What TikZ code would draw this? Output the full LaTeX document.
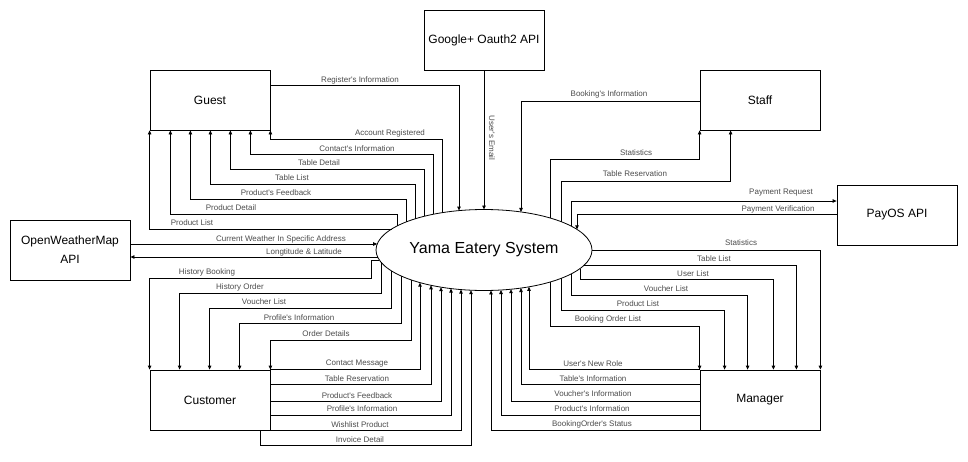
\documentclass[tikz,border=0pt]{standalone}
\usepackage{fontspec}
\setmainfont{Liberation Sans}[Ligatures=TeXOff]
\usetikzlibrary{arrows.meta,shapes.geometric}
\begin{document}
\begin{tikzpicture}[x=1pt,y=-1pt,
 box/.style={draw=black,line width=0.8pt,minimum width=120pt,minimum height=60pt,inner sep=0pt,font=\fontsize{12}{14}\selectfont,align=center},
 flow/.style={draw=black,line width=0.8pt,-{Triangle[length=4pt,width=3.5pt]}},
 lbl/.style={font=\fontsize{8}{9}\selectfont,text=black!70,inner sep=0pt,yshift=-1pt}]
\fill[white] (0,0) rectangle (968,461);
\useasboundingbox (0,0) rectangle (968,461);

% nodes
\node[box] (guest) at (210,100) {Guest};
\node[box] (google) at (484,40) {Google+ Oauth2 API};
\node[box] (staff) at (760,100) {Staff};
\node[box,font=\fontsize{12}{19}\selectfont] (owm) at (70,250) {OpenWeatherMap\\API};
\node[box] (payos) at (897,215) {PayOS API};
\node[box] (customer) at (210,400) {Customer};
\node[box] (manager) at (760,400) {Manager};
\node[draw,ellipse,line width=0.8pt,minimum width=216pt,minimum height=81pt,inner sep=0pt,font=\fontsize{16}{19}\selectfont] (sys) at (484,250) {Yama Eatery System};

% points on the ellipse border
\foreach \x in {397,406,415,424,433,442,459,484,521,550,561,571,577}
  \coordinate (T\x) at (\x,{250-40.5*sqrt(1-((\x-484)/108)^2)});
\foreach \x in {381,391,401,411,420,431,441,451,461,471,491,501,511,521,529,550,561,571,580}
  \coordinate (B\x) at (\x,{250+40.5*sqrt(1-((\x-484)/108)^2)});
\foreach \y in {229,244,257,260}
  \coordinate (L\y) at ({484-108*sqrt(1-((\y-250)/40.5)^2)},\y);
\foreach \y in {250,265}
  \coordinate (R\y) at ({484+108*sqrt(1-((\y-250)/40.5)^2)},\y);

% Guest
\draw[flow] ([yshift=15pt]guest.east) -| (T459);
\draw[flow] (T442) |- ([yshift=-9pt]guest.south east) -- (guest.south east);
\draw[flow] (T433) |- ([xshift=-20pt,yshift=-24pt]guest.south east) -- ([xshift=-20pt]guest.south east);
\draw[flow] (T424) |- ([xshift=-40pt,yshift=-39pt]guest.south east) -- ([xshift=-40pt]guest.south east);
\draw[flow] (T415) |- ([xshift=-60pt,yshift=-54pt]guest.south east) -- ([xshift=-60pt]guest.south east);
\draw[flow] (T406) |- ([xshift=-80pt,yshift=-69pt]guest.south east) -- ([xshift=-80pt]guest.south east);
\draw[flow] (T397) |- ([xshift=-100pt,yshift=-84pt]guest.south east) -- ([xshift=-100pt]guest.south east);
\draw[flow] (L229) -| (guest.south west);

% Google
\draw[flow] (google.south) -- (T484);

% Staff
\draw[flow] ([yshift=-1pt]staff.west) -| (T521);
\draw[flow] (T550) |- ([yshift=-29pt]staff.south west) -- (staff.south west);
\draw[flow] (T561) |- ([xshift=31pt,yshift=-51pt]staff.south west) -- ([xshift=31pt]staff.south west);

% PayOS
\draw[flow] (T571) |- ([yshift=14pt]payos.west);
\draw[flow] ([yshift=1pt]payos.west) -| (T577);

% OpenWeatherMap
\draw[flow] ([yshift=6pt]owm.east) -- (L244);
\draw[flow] (L257) -- ([yshift=-7pt]owm.east);

% Customer
\draw[flow] (L260) -- (371,260) -- (371,278) -| (customer.north west);
\draw[flow] (B381) -- (381,293) -| ([xshift=30pt]customer.north west);
\draw[flow] (B391) -- (391,308) -| ([xshift=60pt]customer.north west);
\draw[flow] (B401) -- (401,323) -| ([xshift=90pt]customer.north west);
\draw[flow] (B411) -- (411,340) -| (customer.north east);
\draw[flow] (customer.north east) -| (B420);
\draw[flow] ([yshift=-15pt]customer.north east) -| (B431);
\draw[flow] ([yshift=-1pt]customer.east) -| (B441);
\draw[flow] ([yshift=-15pt]customer.east) -| (B451);
\draw[flow] (customer.south east) -| (B461);
\draw[flow] ([xshift=-10pt]customer.south east) -- ++(0,15) -| (B471);

% Manager
\draw[flow] (R250) -| (manager.north east);
\draw[flow] (R265) -| ([xshift=-24pt]manager.north east);
\draw[flow] (B580) -- (580,279) -| ([xshift=-47pt]manager.north east);
\draw[flow] (B571) -- (571,295) -| ([xshift=48pt]manager.north west);
\draw[flow] (B561) -- (561,310) -| ([xshift=25pt]manager.north west);
\draw[flow] (B550) -- (550,326) -| (manager.north west);
\draw[flow] (manager.north west) -| (B529);
\draw[flow] ([yshift=-15pt]manager.north west) -| (B521);
\draw[flow] ([yshift=-1pt]manager.west) -| (B511);
\draw[flow] ([yshift=-15pt]manager.west) -| (B501);
\draw[flow] (manager.south west) -| (B491);

% labels
\node[lbl] (l1) at (360,79) {Register's Information};
\node[lbl] (l2) at (390,132) {Account Registered};
\node[lbl] (l3) at (357,148) {Contact's Information};
\node[lbl] (l4) at (319,162) {Table Detail};
\node[lbl] (l5) at (292,177) {Table List};
\node[lbl] (l6) at (276,192) {Product's Feedback};
\node[lbl] (l7) at (231,207) {Product Detail};
\node[lbl] (l8) at (192,222) {Product List};
\node[lbl,rotate=-90,yshift=1pt] (l9) at (491,137) {User's Email};
\node[lbl] (l10) at (609,93) {Booking's Information};
\node[lbl] (l11) at (636,152) {Statistics};
\node[lbl] (l12) at (635,173) {Table Reservation};
\node[lbl] (l13) at (781,192) {Payment Request};
\node[lbl] (l14) at (778,208) {Payment Verification};
\node[lbl] (l15) at (281,238) {Current Weather In Specific Address};
\node[lbl] (l16) at (304,251) {Longtitude \& Latitude};
\node[lbl] (l17) at (207,271) {History Booking};
\node[lbl] (l18) at (240,286) {History Order};
\node[lbl] (l19) at (264,301) {Voucher List};
\node[lbl] (l20) at (299,317) {Profile's Information};
\node[lbl] (l21) at (326,333) {Order Details};
\node[lbl] (l22) at (357,363) {Contact Message};
\node[lbl] (l23) at (357,378) {Table Reservation};
\node[lbl] (l24) at (357,395) {Product's Feedback};
\node[lbl] (l25) at (362,408) {Profile's Information};
\node[lbl] (l26) at (360,424) {Wishlist Product};
\node[lbl] (l27) at (360,439) {Invoice Detail};
\node[lbl] (l28) at (741,242) {Statistics};
\node[lbl] (l29) at (714,258) {Table List};
\node[lbl] (l30) at (693,273) {User List};
\node[lbl] (l31) at (666,288) {Voucher List};
\node[lbl] (l32) at (638,303) {Product List};
\node[lbl] (l33) at (608,318) {Booking Order List};
\node[lbl] (l34) at (593,363) {User's New Role};
\node[lbl] (l35) at (593,378) {Table's Information};
\node[lbl] (l36) at (593,393) {Voucher's Information};
\node[lbl] (l37) at (592,408) {Product's Information};
\node[lbl] (l38) at (592,423) {BookingOrder's Status};
\end{tikzpicture}
\end{document}
